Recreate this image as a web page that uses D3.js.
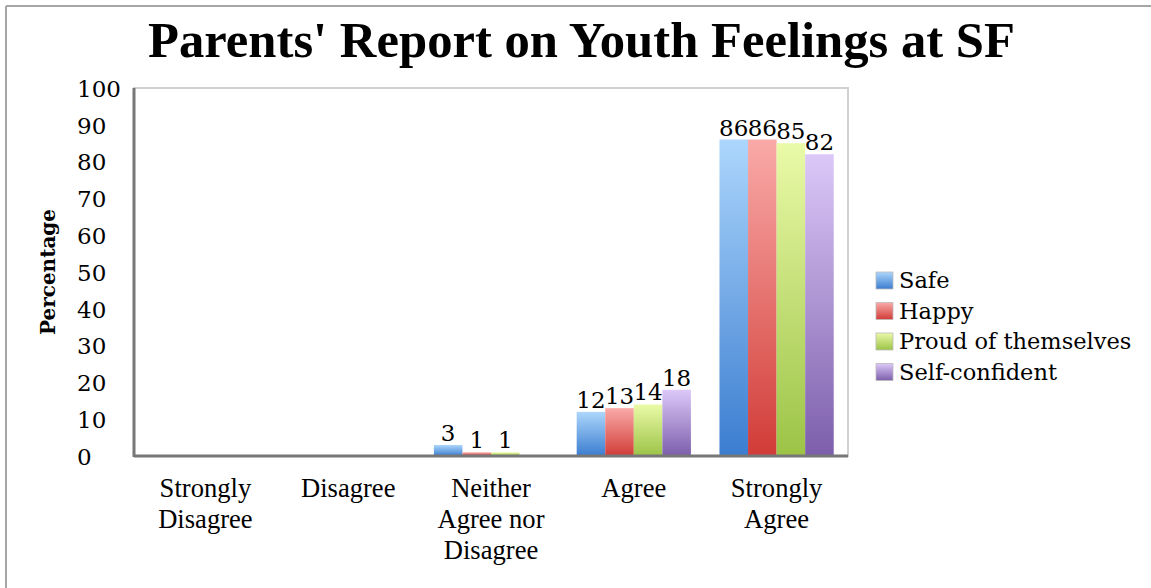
<!DOCTYPE html>
<html>
<head>
<meta charset="utf-8">
<script src="https://cdn.jsdelivr.net/npm/d3@7"></script>
<style>
  body { margin: 0; background: #fff; }
  text { font-family: "Liberation Serif", "DejaVu Serif", serif; fill: #000; }
</style>
</head>
<body>
<div id="chart"></div>
<script>
const categories = [['Strongly', 'Disagree'], ['Disagree'], ['Neither', 'Agree nor', 'Disagree'], ['Agree'], ['Strongly', 'Agree']];
const seriesNames = ['Safe', 'Happy', 'Proud of themselves', 'Self-confident'];
const safe = [null, null, 3, 12, 86];
const happy = [null, null, 1, 13, 86];
const proud = [null, null, 1, 14, 85];
const selfConfident = [null, null, null, 18, 82];
const yTicks = [0, 10, 20, 30, 40, 50, 60, 70, 80, 90, 100];

const seriesValues = [safe, happy, proud, selfConfident];
const gradColors = [
    ['#acd6fc', '#3b7dd0'],
    ['#f9aaa8', '#d13c37'],
    ['#eafaa8', '#9cc346'],
    ['#dcc8f8', '#7c5eab']
];

const width = 1151, height = 588;
const plot = { left: 134, top: 88, right: 848, bottom: 456 };
const slab = '"DejaVu Serif", serif';

const svg = d3.select('#chart').append('svg')
    .attr('width', width)
    .attr('height', height);

const defs = svg.append('defs');
gradColors.forEach((c, i) => {
    const g = defs.append('linearGradient')
        .attr('id', 'grad' + i)
        .attr('x1', 0).attr('y1', 0).attr('x2', 0).attr('y2', 1);
    g.append('stop').attr('offset', '0%').attr('stop-color', c[0]);
    g.append('stop').attr('offset', '100%').attr('stop-color', c[1]);
});

// outer frame (only top and left edges show in the picture)
svg.append('line').attr('x1', 6).attr('x2', width).attr('y1', 6).attr('y2', 6)
    .attr('stroke', '#a6a6a6').attr('stroke-width', 2);
svg.append('line').attr('x1', 6).attr('x2', 6).attr('y1', 6).attr('y2', height)
    .attr('stroke', '#a6a6a6').attr('stroke-width', 2);

// title
svg.append('text')
    .attr('x', 148)
    .attr('y', 57)
    .style('font-size', '51px')
    .style('font-weight', 'bold')
    .attr('textLength', 867)
    .attr('lengthAdjust', 'spacingAndGlyphs')
    .text("Parents' Report on Youth Feelings at SF");

const x0 = d3.scaleBand()
    .domain(d3.range(categories.length))
    .range([plot.left, plot.right])
    .paddingInner(0.2)
    .paddingOuter(0.1);

const x1 = d3.scaleBand()
    .domain(d3.range(seriesNames.length))
    .range([0, x0.bandwidth()]);

const y = d3.scaleLinear()
    .domain([0, 100])
    .range([plot.bottom, plot.top]);

// plot border (top/right light)
svg.append('rect')
    .attr('x', plot.left).attr('y', plot.top)
    .attr('width', plot.right - plot.left).attr('height', plot.bottom - plot.top)
    .attr('fill', 'none').attr('stroke', '#d0d0d0').attr('stroke-width', 2);

// y tick labels, left aligned
const yAxis = svg.append('g').attr('transform', `translate(77,0)`)
    .call(d3.axisLeft(y).tickValues(yTicks).tickSize(0).tickPadding(0));
yAxis.select('.domain').remove();
yAxis.selectAll('text')
    .attr('text-anchor', 'start')
    .attr('x', 0)
    .attr('dy', '0.36em')
    .style('font-family', slab)
    .style('font-size', '23px')
    .attr('fill', '#222');

// bars
seriesValues.forEach((vals, s) => {
    const g = svg.append('g');
    const pts = vals.map((v, i) => ({ v, i })).filter(d => d.v !== null);
    g.selectAll('rect')
        .data(pts)
        .enter()
        .append('rect')
        .attr('x', d => x0(d.i) + x1(s))
        .attr('y', d => y(d.v))
        .attr('width', x1.bandwidth())
        .attr('height', d => y(0) - y(d.v))
        .attr('fill', `url(#grad${s})`);
    g.selectAll('text')
        .data(pts)
        .enter()
        .append('text')
        .attr('x', d => x0(d.i) + x1(s) + x1.bandwidth() / 2)
        .attr('y', d => y(d.v) - 4)
        .attr('text-anchor', 'middle')
        .style('font-family', slab)
        .style('font-size', '23px')
        .attr('fill', '#222')
        .text(d => d.v);
});

// axis lines
const axisG = svg.append('g');
axisG.append('line')
    .attr('x1', plot.left).attr('x2', plot.left)
    .attr('y1', plot.top).attr('y2', plot.bottom + 1)
    .attr('stroke', '#777').attr('stroke-width', 3);
axisG.append('line')
    .attr('x1', plot.left).attr('x2', plot.right)
    .attr('y1', plot.bottom).attr('y2', plot.bottom)
    .attr('stroke', '#777').attr('stroke-width', 3);

// category labels
categories.forEach((lines, i) => {
    const cx = x0(i) + x0.bandwidth() / 2;
    const t = svg.append('text')
        .attr('transform', `translate(${cx},497) scale(0.95,1)`)
        .attr('text-anchor', 'middle')
        .style('font-size', '28px')
        .attr('fill', '#222');
    lines.forEach((ln, j) => {
        t.append('tspan')
            .attr('x', 0)
            .attr('dy', j === 0 ? 0 : 31)
            .text(ln);
    });
});

// y axis title
svg.append('text')
    .attr('transform', 'translate(55,272) rotate(-90)')
    .attr('text-anchor', 'middle')
    .style('font-family', slab)
    .style('font-size', '20px')
    .style('font-weight', 'bold')
    .text('Percentage');

// legend
const legend = svg.append('g').attr('transform', 'translate(876,272)');
seriesNames.forEach((name, i) => {
    const row = legend.append('g').attr('transform', `translate(0,${i * 30.5})`);
    row.append('rect')
        .attr('width', 17).attr('height', 17)
        .attr('fill', `url(#grad${i})`)
        .attr('stroke', '#bbb').attr('stroke-width', 0.8);
    row.append('text')
        .attr('x', 23)
        .attr('y', 16)
        .style('font-family', slab)
        .style('font-size', '22.5px')
        .attr('fill', '#222')
        .text(name);
});
</script>
</body>
</html>
